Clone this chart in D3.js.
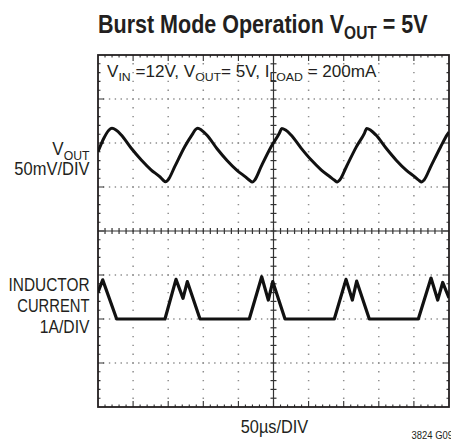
<!DOCTYPE html>
<html>
<head>
<meta charset="utf-8">
<script src="https://cdn.jsdelivr.net/npm/d3@7"></script>
<style>
	body { margin: 0; background: #fff; }
	text { font-family: "Liberation Sans", Arial, sans-serif; fill: #231f20; }
</style>
</head>
<body>
<div class="canvas"></div>
<script>
// time in µs (50µs/DIV), vout ripple in mV (50mV/DIV), inductor current in A (1A/DIV)
const voutTrace = [
	[0, 90.1], [8.5, 105.7], [15.7, 114.8], [19.9, 116.7], [25.6, 114.8], [33.2, 109.1],
	[47.4, 94.0], [61.7, 80.7], [75.9, 69.3], [87.9, 61.7], [92.6, 58.0], [96.4, 56.0],
	[99.7, 58.0], [109.3, 73.1], [123.5, 95.8], [135.3, 111.0], [139.0, 115.3], [142.0, 116.7],
	[147.5, 114.6], [155.3, 108.8], [169.6, 93.5], [183.8, 80.2], [198.0, 69.0], [210.5, 61.2],
	[215.8, 57.6], [219.8, 55.6], [223.2, 57.8], [232.5, 73.4], [246.8, 96.0], [258.5, 111.3],
	[261.7, 116.5], [267.2, 114.7], [275.0, 109.0], [289.3, 94.2], [303.5, 80.9], [317.8, 69.6],
	[330.0, 61.9], [336.5, 57.9], [340.9, 55.8], [344.3, 57.9], [353.8, 73.0], [368.0, 95.6],
	[379.5, 111.0], [382.8, 116.6], [388.4, 114.6], [396.0, 109.0], [410.5, 94.0], [424.8, 80.5],
	[439.0, 69.2], [451.3, 61.5], [456.8, 57.8], [461.1, 55.7], [464.5, 58.0], [474.0, 73.2],
	[488.0, 95.5], [497.5, 109.5], [500, 112.5],
];
const currentTrace = [
	[0, 0.61], [6.7, 0.89], [26.6, 0], [95.4, 0], [111.1, 0.90], [121.1, 0.47],
	[127.2, 0.85], [145.3, 0], [215.5, 0], [233.2, 0.96], [242.6, 0.43], [248.9, 0.85],
	[266.4, 0], [336.6, 0], [353.3, 0.90], [362.3, 0.43], [368.5, 0.86], [386.5, 0],
	[456.3, 0], [474.4, 0.93], [483.9, 0.43], [491.0, 0.83], [500, 0.48],
];
const timeDomain = [0, 500];
const voutDomain = [-200, 200];
const currentDomain = [-2, 6];
const timeDivs = d3.range(50, 500, 50);
const voutDivs = d3.range(-150, 200, 50);
const timeMinor = d3.range(10, 500, 10);
const voutMinor = d3.range(-190, 200, 10);

const dimensions = { width: 451, height: 439, left: 98, right: 449, top: 55, bottom: 407 };

const svg = d3
	.select(".canvas")
	.append("svg")
	.attr("width", dimensions.width)
	.attr("height", dimensions.height);

const x = d3.scaleLinear().domain(timeDomain).range([dimensions.left, dimensions.right]);
const yV = d3.scaleLinear().domain(voutDomain).range([dimensions.bottom, dimensions.top]);
const yI = d3.scaleLinear().domain(currentDomain).range([dimensions.bottom, dimensions.top]);
const cx = x(250);
const cy = yV(0);

// dotted graticule
const grid = svg.append("g").attr("stroke", "#8e8e8e").attr("stroke-width", 1.5);
grid.selectAll(".vg")
	.data(timeDivs.filter((d) => d !== 250))
	.enter()
	.append("line")
	.attr("x1", (d) => x(d)).attr("x2", (d) => x(d))
	.attr("y1", dimensions.top).attr("y2", dimensions.bottom)
	.attr("stroke-dasharray", "1.4,7.4")
	.attr("stroke-dashoffset", -8.1);
grid.selectAll(".hg")
	.data(voutDivs.filter((d) => d !== 0))
	.enter()
	.append("line")
	.attr("y1", (d) => yV(d)).attr("y2", (d) => yV(d))
	.attr("x1", dimensions.left).attr("x2", dimensions.right)
	.attr("stroke-dasharray", "1.4,4.45")
	.attr("stroke-dashoffset", -5);

// centre cross with minor ticks
const axes = svg.append("g").attr("stroke", "#333").attr("stroke-width", 1.2);
axes.append("line").attr("x1", cx).attr("x2", cx).attr("y1", dimensions.top).attr("y2", dimensions.bottom);
axes.append("line").attr("y1", cy).attr("y2", cy).attr("x1", dimensions.left).attr("x2", dimensions.right);
axes.selectAll(".ct")
	.data(timeMinor)
	.enter()
	.append("line")
	.attr("x1", (d) => x(d)).attr("x2", (d) => x(d))
	.attr("y1", cy - 3).attr("y2", cy + 3);
axes.selectAll(".cv")
	.data(voutMinor)
	.enter()
	.append("line")
	.attr("y1", (d) => yV(d)).attr("y2", (d) => yV(d))
	.attr("x1", cx - 3).attr("x2", cx + 3);

// frame ticks
const ticks = svg.append("g").attr("stroke", "#333").attr("stroke-width", 1.1);
const tickLen = (major) => (major ? 6 : 2.5);
ticks.selectAll(".bt")
	.data(timeMinor)
	.enter()
	.append("path")
	.attr("d", (d) => {
		const l = tickLen(d % 50 === 0);
		return `M${x(d)},${dimensions.bottom}v${-l}M${x(d)},${dimensions.top}v${l}`;
	});
ticks.selectAll(".lt")
	.data(voutMinor)
	.enter()
	.append("path")
	.attr("d", (d) => {
		const l = tickLen(d % 50 === 0);
		return `M${dimensions.left},${yV(d)}h${l}M${dimensions.right},${yV(d)}h${-l}`;
	});

svg.append("rect")
	.attr("x", dimensions.left)
	.attr("y", dimensions.top)
	.attr("width", dimensions.right - dimensions.left)
	.attr("height", dimensions.bottom - dimensions.top)
	.attr("fill", "none")
	.attr("stroke", "#231f20")
	.attr("stroke-width", 1.8);

// traces
svg.append("clipPath").attr("id", "clip")
	.append("rect")
	.attr("x", dimensions.left).attr("y", dimensions.top)
	.attr("width", dimensions.right - dimensions.left)
	.attr("height", dimensions.bottom - dimensions.top);
const traces = svg.append("g").attr("clip-path", "url(#clip)");
traces.append("path")
	.datum(voutTrace)
	.attr("fill", "none")
	.attr("stroke", "#111")
	.attr("stroke-width", 3)
	.attr("stroke-linejoin", "round")
	.attr("d", d3.line().x((d) => x(d[0])).y((d) => yV(d[1])).curve(d3.curveMonotoneX));
traces.append("path")
	.datum(currentTrace)
	.attr("fill", "none")
	.attr("stroke", "#111")
	.attr("stroke-width", 3.2)
	.attr("stroke-linejoin", "round")
	.attr("d", d3.line().x((d) => x(d[0])).y((d) => yI(d[1])));

// text, squeezed to the condensed face of the original
function label(parts, px, py, size, width, anchor, weight) {
	const g = svg.append("g");
	const t = g.append("text")
		.attr("x", px).attr("y", py)
		.attr("font-size", size)
		.attr("font-weight", weight || "normal")
		.attr("text-anchor", anchor || "start");
	let shift = 0;
	parts.forEach((p) => {
		const sub = Array.isArray(p);
		const s = t.append("tspan").text(sub ? p[0] : p);
		const want = sub ? size * 0.24 : 0;
		s.attr("dy", want - shift);
		if (sub) s.attr("font-size", size * 0.72);
		shift = want;
	});
	const w = t.node().getBBox().width;
	const k = width / w;
	g.attr("transform", `translate(${px},0) scale(${k},1) translate(${-px},0)`);
	return g;
}

label(["Burst Mode Operation V", ["OUT"], " = 5V"], 98, 33, 25, 330, "start", "bold");
label(["V", ["IN"], " =12V, V", ["OUT"], "= 5V, I", ["LOAD"], " = 200mA"], 107, 77, 16, 270);
label(["V", ["OUT"]], 89.5, 155.5, 17.5, 37.5, "end");
label(["50mV/DIV"], 89.5, 175.5, 17.5, 75.5, "end");
label(["INDUCTOR"], 89.5, 291, 17.5, 81, "end");
label(["CURRENT"], 89.5, 312.5, 17.5, 72.5, "end");
label(["1A/DIV"], 89.5, 333.5, 17.5, 50, "end");
label(["50µs/DIV"], 274.5, 433, 18.5, 68, "middle");
label(["3824 G09"], 411.5, 439.5, 10, 42);
</script>
</body>
</html>
